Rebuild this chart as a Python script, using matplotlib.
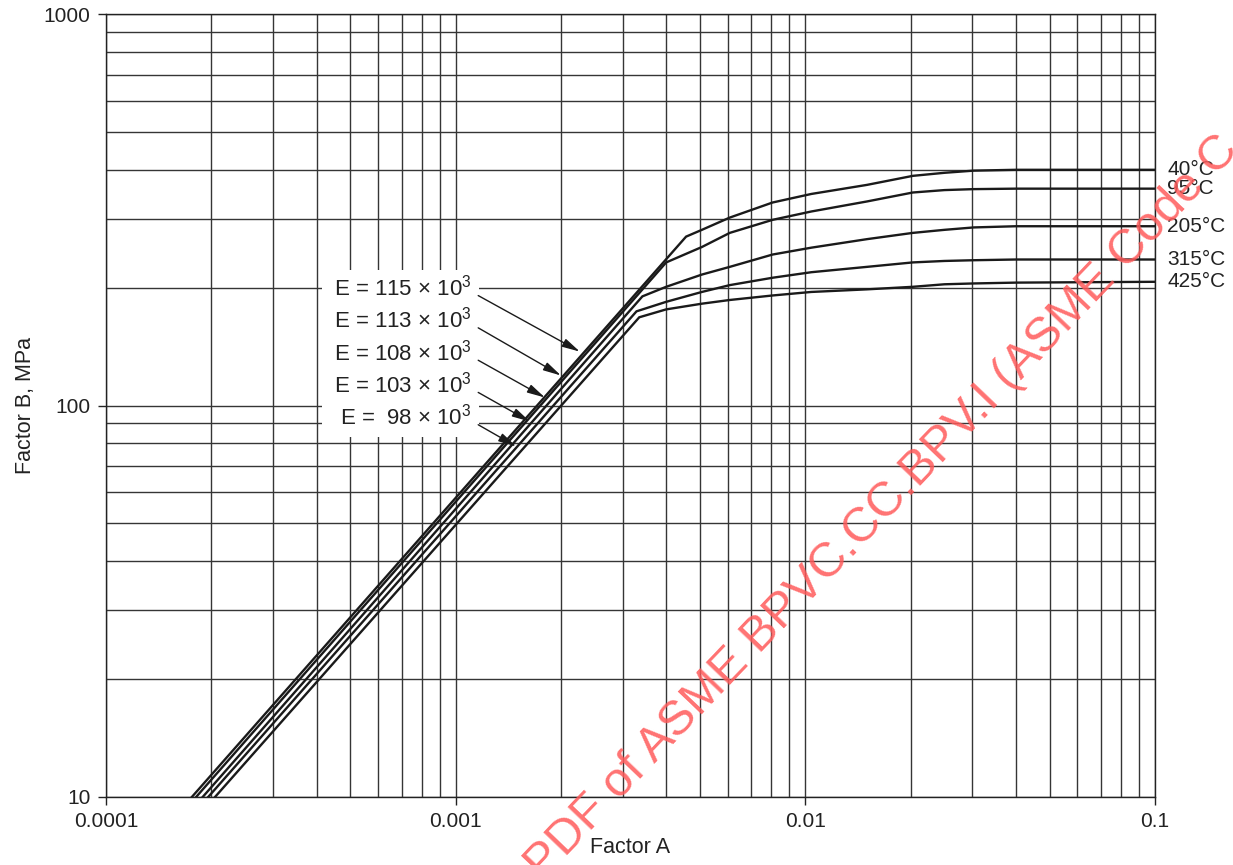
import matplotlib
matplotlib.use("Agg")
import matplotlib.pyplot as plt
from matplotlib.ticker import FixedLocator, FixedFormatter, LogLocator, NullFormatter
from matplotlib.transforms import Bbox, IdentityTransform, blended_transform_factory
from matplotlib.patches import Rectangle

plt.rcParams['font.family'] = ['Liberation Sans', 'DejaVu Sans']
plt.rcParams['mathtext.fontset'] = 'custom'
plt.rcParams['mathtext.rm'] = 'Liberation Sans'
plt.rcParams['mathtext.it'] = 'Liberation Sans:italic'

# ---------------- data ----------------
x_ticks = [0.0001, 0.001, 0.01, 0.1]
x_tick_labels = ["0.0001", "0.001", "0.01", "0.1"]
y_ticks = [10, 100, 1000]
y_tick_labels = ["10", "100", "1000"]

temps = ["40°C", "95°C", "205°C", "315°C", "425°C"]

A_40 = [1.76e-4, 4.56e-3, 5.06e-3, 6.08e-3, 8.06e-3, 1.04e-2, 1.5e-2, 2.03e-2, 2.5e-2, 3.03e-2, 4.0e-2, 0.1]
B_40 = [10, 270, 281, 302, 330, 347, 366, 386, 393, 398, 400, 400]

A_95 = [1.81e-4, 4.0e-3, 5.06e-3, 6.08e-3, 8.06e-3, 1.04e-2, 1.5e-2, 2.03e-2, 2.5e-2, 3.03e-2, 4.0e-2, 0.1]
B_95 = [10, 232, 254, 276, 298, 313, 332, 350, 355, 357, 358, 358]

A_205 = [1.89e-4, 3.42e-3, 4.0e-3, 5.06e-3, 6.08e-3, 8.06e-3, 1.04e-2, 1.5e-2, 2.03e-2, 2.5e-2, 3.03e-2, 4.0e-2, 0.1]
B_205 = [10, 190, 201, 216, 226, 243, 253, 266, 276, 281, 285, 287, 287]

A_315 = [1.96e-4, 3.29e-3, 4.0e-3, 5.06e-3, 6.08e-3, 8.06e-3, 1.04e-2, 1.5e-2, 2.03e-2, 2.5e-2, 3.03e-2, 4.0e-2, 0.1]
B_315 = [10, 174, 184, 195, 203, 212, 219, 226, 232, 234, 235, 236, 236]

A_425 = [2.05e-4, 3.35e-3, 4.0e-3, 5.06e-3, 6.08e-3, 8.06e-3, 1.04e-2, 1.5e-2, 2.03e-2, 2.5e-2, 3.03e-2, 4.0e-2, 0.1]
B_425 = [10, 168, 176, 182, 186, 191, 195, 198, 201, 204, 205, 206, 207]

curves_A = [A_40, A_95, A_205, A_315, A_425]
curves_B = [B_40, B_95, B_205, B_315, B_425]

E_labels = ["E = 115 × $10^{3}$", "E = 113 × $10^{3}$", "E = 108 × $10^{3}$",
            "E = 103 × $10^{3}$", "E =  98 × $10^{3}$"]
# annotation geometry (label anchor and arrow targets, in data units)
E_label_A = 0.00111
E_label_B = [190.9, 157.9, 130.5, 108.0, 89.3]
E_arrow_start_A = 0.00116
E_arrow_end_A = [0.002265, 0.0020, 0.0018, 0.00163, 0.00149]
E_arrow_end_B = [137.3, 119.3, 104.8, 91.0, 78.6]

# ---------------- figure ----------------
W, H = 1233, 865
fig = plt.figure(figsize=(W / 100, H / 100), dpi=100)
ax = fig.add_axes([106 / W, 1 - 797 / H, (1155 - 106) / W, (797 - 14) / H])
ax.set_xscale('log')
ax.set_yscale('log')
ax.set_xlim(1e-4, 0.1)
ax.set_ylim(10, 1000)

ax.xaxis.set_major_locator(FixedLocator(x_ticks))
ax.xaxis.set_major_formatter(FixedFormatter(x_tick_labels))
ax.yaxis.set_major_locator(FixedLocator(y_ticks))
ax.yaxis.set_major_formatter(FixedFormatter(y_tick_labels))
ax.xaxis.set_minor_locator(LogLocator(base=10, subs=range(2, 10)))
ax.yaxis.set_minor_locator(LogLocator(base=10, subs=range(2, 10)))
ax.xaxis.set_minor_formatter(NullFormatter())
ax.yaxis.set_minor_formatter(NullFormatter())

ax.set_axisbelow(True)
ax.grid(which='both', color='#353535', lw=1.0)
ax.tick_params(which='minor', length=0)
ax.tick_params(which='major', direction='out', length=6, width=1.0,
               labelsize=15, pad=5, colors='#222222')
for s in ax.spines.values():
    s.set_linewidth(1.0)
    s.set_color('#222222')

ax.set_xlabel("Factor A", fontsize=15.5, labelpad=4, color='#222222')
ax.set_ylabel("Factor B, MPa", fontsize=15.5, labelpad=6, color='#222222')

for A, B in zip(curves_A, curves_B):
    ax.plot(A, B, color='#1a1a1a', lw=1.7, zorder=3, solid_joinstyle='miter')

trans = blended_transform_factory(ax.transAxes, ax.transData)
for lab, B in zip(temps, curves_B):
    ax.text(1.0115, B[-1], lab, transform=trans, ha='left', va='center',
            fontsize=15, color='#222222', clip_on=False)

texts = []
for lab, yb in zip(E_labels, E_label_B):
    t = ax.text(E_label_A, yb, lab, ha='right', va='baseline', fontsize=16,
                color='#222222', zorder=5)
    texts.append(t)

for yb, xe, ye in zip(E_label_B, E_arrow_end_A, E_arrow_end_B):
    ax.annotate("", xy=(xe, ye), xytext=(E_arrow_start_A, yb),
                arrowprops=dict(arrowstyle='-|>,head_length=0.9,head_width=0.22',
                                lw=1.0, color='#1a1a1a', mutation_scale=12,
                                shrinkA=0, shrinkB=0), zorder=5)

# watermark
wm_color = '#ff5a5a'
wm_x, wm_y, wm_rot, wm_fs = 534 / W, 1 - 872 / H, 46.3, 35
fig.text(wm_x, wm_y, "PDF of ASME BPVC.CC.BPV.I (ASME Code C",
         rotation=wm_rot, rotation_mode='anchor', ha='left', va='center',
         fontsize=wm_fs, color=wm_color, alpha=0.85, zorder=10)
fig.text(wm_x, wm_y, "Click to view the full ",
         rotation=wm_rot, rotation_mode='anchor', ha='right', va='center',
         fontsize=wm_fs, color=wm_color, alpha=0.85, zorder=10)

# white background behind the E labels
fig.canvas.draw()
r = fig.canvas.get_renderer()
bb = Bbox.union([t.get_window_extent(r) for t in texts])
rect = Rectangle((bb.x0 - 12, bb.y0 - 7), bb.width + 19, bb.height + 12,
                 transform=IdentityTransform(), facecolor='white',
                 edgecolor='none', zorder=2)
ax.add_patch(rect)

fig.savefig("out.png", dpi=100)
